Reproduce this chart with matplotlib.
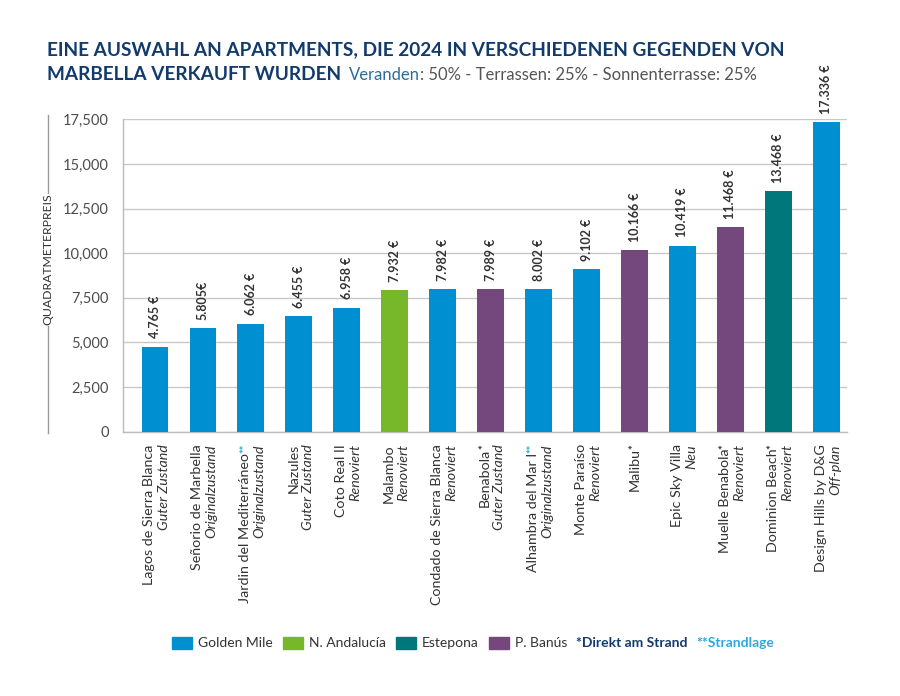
import matplotlib
matplotlib.use("Agg")
import matplotlib.pyplot as plt
from matplotlib.patches import Patch
from matplotlib.ticker import FuncFormatter

names = ["Lagos de Sierra Blanca", "Señorio de Marbella", "Jardin del Mediterráneo",
         "Nazules", "Coto Real II", "Malambo", "Condado de Sierra Blanca", "Benabola",
         "Alhambra del Mar I", "Monte Paraíso", "Malibu", "Epic Sky Villa",
         "Muelle Benabola", "Dominion Beach", "Design Hills by D&G"]
states = ["Guter Zustand", "Originalzustand", "Originalzustand", "Guter Zustand",
          "Renoviert", "Renoviert", "Renoviert", "Guter Zustand", "Originalzustand",
          "Renoviert", "", "Neu", "Renoviert", "Renoviert", "Off-plan"]
marks = ["", "", "**", "", "", "", "", "*", "**", "", "*", "", "*", "*", ""]
zones = ["Golden Mile", "Golden Mile", "Golden Mile", "Golden Mile", "Golden Mile",
         "N. Andalucía", "Golden Mile", "P. Banús", "Golden Mile", "Golden Mile",
         "P. Banús", "Golden Mile", "P. Banús", "Estepona", "Golden Mile"]
prices = [4765, 5805, 6062, 6455, 6958, 7932, 7982, 7989, 8002, 9102,
          10166, 10419, 11468, 13468, 17336]
price_labels = ["4.765 €", "5.805€", "6.062 €", "6.455 €", "6.958 €", "7.932 €",
                "7.982 €", "7.989 €", "8.002 €", "9.102 €", "10.166 €", "10.419 €",
                "11.468 €", "13.468 €", "17.336 €"]
yticks = [0, 2500, 5000, 7500, 10000, 12500, 15000, 17500]
legend_zones = ["Golden Mile", "N. Andalucía", "Estepona", "P. Banús"]

zone_colors = {"Golden Mile": "#0090D2", "N. Andalucía": "#76B82A",
               "Estepona": "#00777B", "P. Banús": "#74477D"}
mark_colors = {"*": "#123A6B", "**": "#2BA8E0"}
navy = "#123A6B"
grey = "#555555"
dark = "#333333"

plt.rcParams["font.family"] = ["Lato", "DejaVu Sans"]

fig = plt.figure(figsize=(9, 6.96), dpi=100)
ax = fig.add_axes([0.1363, 0.3797, 0.8045, 0.4489])

x = list(range(len(prices)))
ax.bar(x, prices, width=0.56, color=[zone_colors[z] for z in zones], zorder=3)
ax.set_xlim(-0.674, 14.425)
ax.set_ylim(0, 17500)
ax.set_yticks(yticks)
ax.yaxis.set_major_formatter(FuncFormatter(lambda v, p: f"{int(v):,}"))
ax.tick_params(axis="y", length=0, pad=10, labelsize=10.5, labelcolor="#4D4D4D")
ax.set_xticks([])
ax.grid(axis="y", color="#C8C8C8", linewidth=1, zorder=0)
for s in ["top", "right"]:
    ax.spines[s].set_visible(False)
for s in ["left", "bottom"]:
    ax.spines[s].set_color("#BBBBBB")
    ax.spines[s].set_linewidth(1)

# value labels above the bars
for i, (v, lab) in enumerate(zip(prices, price_labels)):
    ax.annotate(lab, (i, v), xytext=(0, 6), textcoords="offset points",
                rotation=90, ha="center", va="bottom", fontsize=9,
                fontweight="bold", color=dark, annotation_clip=False)

# category labels: name + italic state, with coloured asterisks
tr = ax.get_xaxis_transform()
for i in x:
    dx = -4 if states[i] else 0
    top = -9
    if marks[i]:
        ax.annotate(marks[i], (i, 0), xycoords=tr, xytext=(dx - 0.5, top),
                    textcoords="offset points", rotation=90, ha="center", va="top",
                    fontsize=8, fontweight="bold", color=mark_colors[marks[i]],
                    annotation_clip=False)
        top -= 3.0 * len(marks[i])
    ax.annotate(names[i], (i, 0), xycoords=tr, xytext=(dx, top),
                textcoords="offset points", rotation=90, ha="center", va="top",
                fontsize=10.3, color=dark, annotation_clip=False)
    if states[i]:
        ax.annotate(states[i], (i, 0), xycoords=tr, xytext=(6.3, -9),
                    textcoords="offset points", rotation=90, ha="center", va="top",
                    fontsize=10.3, style="italic", color=dark,
                    annotation_clip=False)

# y label with lines
fig.text(48 / 900, 1 - 259 / 696, "QUADRATMETERPREIS", rotation=90, ha="center",
         va="center", fontsize=8.8, color=dark)
fig.add_artist(plt.Line2D([48 / 900] * 2, [1 - 115 / 696, 1 - 193 / 696],
                          color="#999999", linewidth=1))
fig.add_artist(plt.Line2D([48 / 900] * 2, [1 - 326 / 696, 1 - 433 / 696],
                          color="#999999", linewidth=1))

# title
fig.text(47 / 900, 1 - 55 / 696,
         "EINE AUSWAHL AN APARTMENTS, DIE 2024 IN VERSCHIEDENEN GEGENDEN VON",
         fontsize=13.7, fontweight="bold", color=navy, va="baseline")
t2 = fig.text(47 / 900, 1 - 80 / 696, "MARBELLA VERKAUFT WURDEN",
              fontsize=13.7, fontweight="bold", color=navy, va="baseline")
r = fig.canvas.get_renderer()
x0 = t2.get_window_extent(r).x1 / 900 + 8 / 900
t3 = fig.text(x0, 1 - 80 / 696, "Veranden", fontsize=12, color="#2A6E99",
              va="baseline")
x1 = t3.get_window_extent(r).x1 / 900
fig.text(x1, 1 - 80 / 696, ": 50% - Terrassen: 25% - Sonnenterrasse: 25%",
         fontsize=12, color=grey, va="baseline")

# legend
handles = [Patch(color=zone_colors[z]) for z in legend_zones]
leg = fig.legend(handles, legend_zones, loc="center left",
                 bbox_to_anchor=(172 / 900, 1 - 643 / 696), ncol=4,
                 frameon=False, fontsize=10, handlelength=1.45, handleheight=1.0,
                 handletextpad=0.45, columnspacing=0.7, labelcolor=dark,
                 borderaxespad=0, borderpad=0)
lx = leg.get_window_extent(r).x1 / 900 + 9 / 900
n1 = fig.text(lx, 1 - 643 / 696, "*Direkt am Strand", fontsize=10,
              fontweight="bold", color=navy, va="center")
nx = n1.get_window_extent(r).x1 / 900 + 8 / 900
fig.text(nx, 1 - 643 / 696, "**Strandlage", fontsize=10,
         fontweight="bold", color="#2BA8E0", va="center")

fig.savefig("out.png", dpi=100)
